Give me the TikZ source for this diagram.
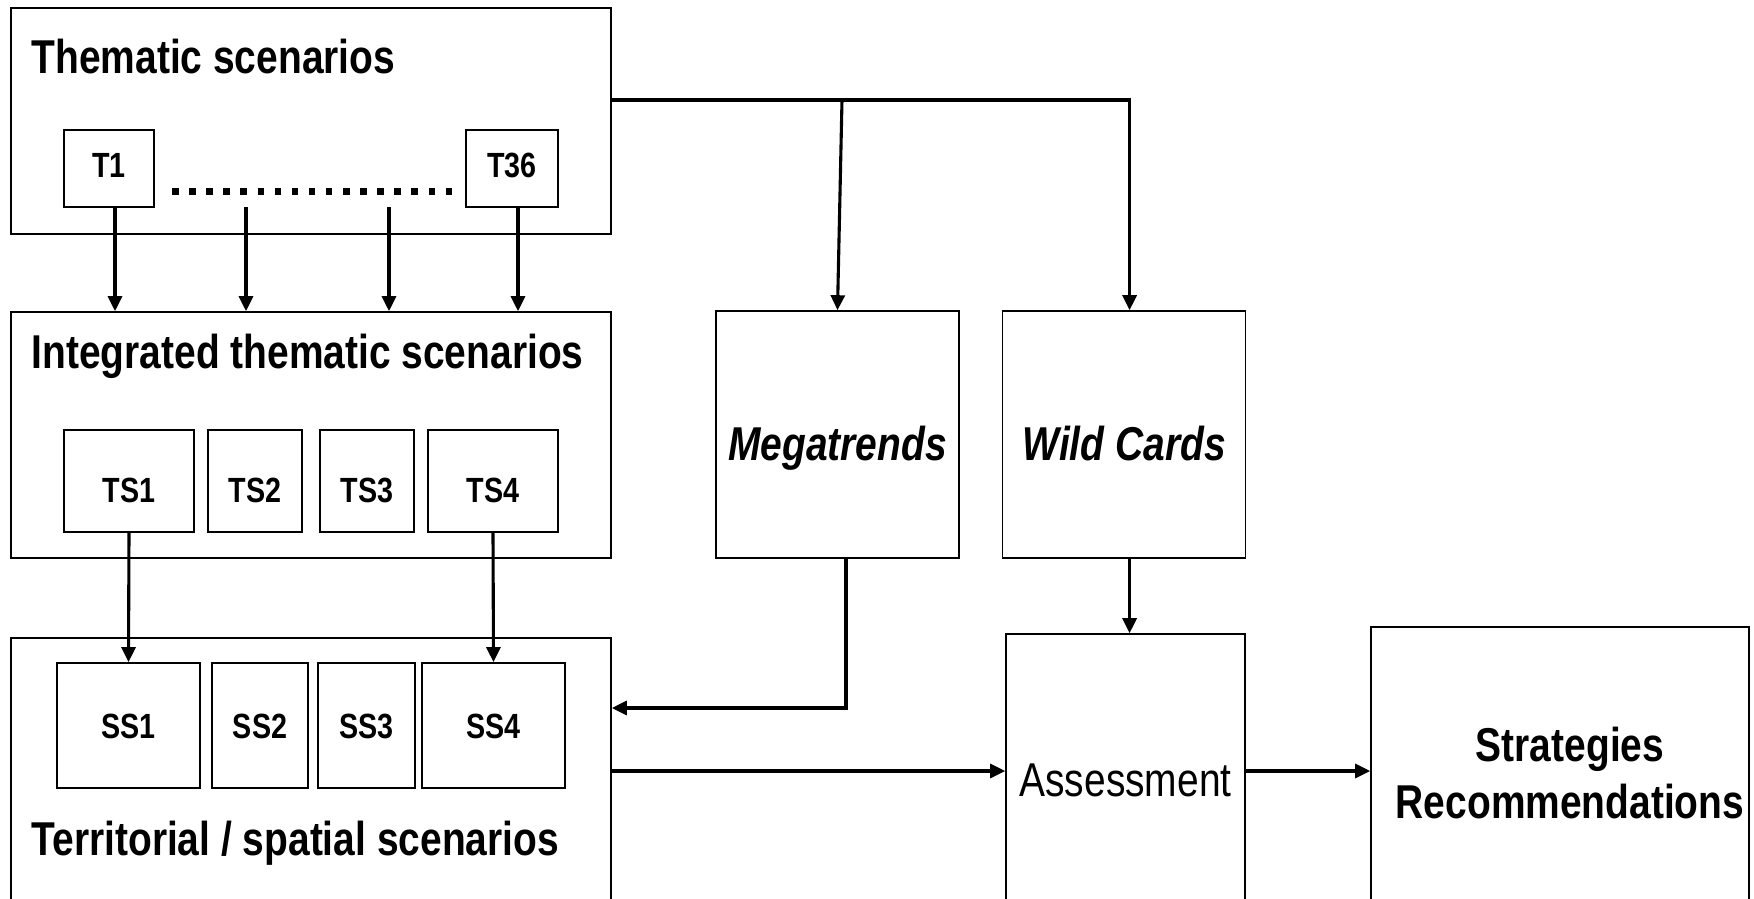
\documentclass[tikz,border=0pt]{standalone}
\usepackage{fontspec}
\setmainfont{Liberation Sans}[FakeStretch=0.82]
\usetikzlibrary{arrows.meta,positioning}

\tikzset{
  box/.style={draw,line width=1.6pt,inner sep=0pt},
  scen/.style={box,minimum width=600pt},
  big/.style={box,minimum width=243pt,minimum height=247pt},
  sub/.style={box,line width=1.8pt,font=\fontsize{35}{42}\selectfont\bfseries},
  title/.style={anchor=base west,font=\fontsize{47.5}{57}\selectfont\bfseries},
  flow/.style={line width=3.1pt,-{Triangle[length=15pt,width=14pt]}},
}

\begin{document}
\begin{tikzpicture}[x=1pt,y=-1pt]
  \useasboundingbox (0,0) rectangle (1754,899);
  \clip (0,0) rectangle (1754,899);

  % the three scenario levels
  \node[scen,minimum height=226pt] (thematic) at (311,121) {};
  \node[scen,minimum height=246pt] (integrated) at (311,435) {};
  \node[scen,minimum height=292pt] (territorial) at (311,784) {};

  \node[title] (thtitle) at (28,74) {Thematic scenarios};
  \node[title] (ittitle) at (28,368) {Integrated thematic scenarios};
  \node[title] (tetitle) at (28,855) {Territorial / spatial scenarios};

  % thematic
  \node[sub,minimum width=90pt,minimum height=77pt,text height=25pt,text depth=8pt] (t1) at (109,168.5) {T1};
  \node[sub,minimum width=92pt,minimum height=77pt,text height=25pt,text depth=8pt] (t36) at (512,168.5) {T36};
  \draw[line width=6.5pt,dash pattern=on 6.5pt off 10.6pt] (172,191.5) -- (452,191.5);

  % integrated
  \tikzset{tsbox/.style={sub,minimum height=102pt,text height=42pt,text depth=0pt}}
  \node[tsbox,minimum width=130pt] (ts1) at (129,481) {TS1};
  \node[tsbox,minimum width=94pt,right=12.2pt of ts1] (ts2) {TS2};
  \node[tsbox,minimum width=94pt,right=16.2pt of ts2] (ts3) {TS3};
  \node[tsbox,minimum width=130pt,right=12.2pt of ts3] (ts4) {TS4};

  % territorial
  \tikzset{ssbox/.style={sub,minimum height=125pt,text height=25pt,text depth=0pt}}
  \node[ssbox,minimum width=143pt] (ss1) at (128.5,725.5) {SS1};
  \node[ssbox,minimum width=96pt,right=10.2pt of ss1] (ss2) {SS2};
  \node[ssbox,minimum width=97pt,right=8.2pt of ss2] (ss3) {SS3};
  \node[ssbox,minimum width=143pt,right=5.2pt of ss3] (ss4) {SS4};

  % right part
  \node[big,font=\fontsize{47.5}{57}\selectfont\bfseries\itshape,text height=51pt,text depth=0pt] (megatrends) at (837.5,434.5) {Megatrends};
  \node[big,font=\fontsize{47.5}{57}\selectfont\bfseries\itshape,text height=51pt,text depth=0pt,right=42pt of megatrends] (wildcards) {Wild Cards};
  \node[box,minimum width=239pt,minimum height=290pt,font=\fontsize{47.5}{57}\selectfont,text height=34pt,text depth=0pt] (assessment) at (1125.5,779) {Assessment};
  \node[box,minimum width=378pt,minimum height=284pt] (strategies) at (1560,769) {};
  \node[align=center,font=\fontsize{47.5}{57}\selectfont\bfseries] (strattxt) at (1570,773) {Strategies\\Recommendations};

  % connectors
  \coordinate (feed) at (0,100);
  \coordinate (branch) at (842,100);
  \coordinate (mtlevel) at (0,708);
  \coordinate (outlevel) at (0,771);
  \coordinate (d1) at (246,207);
  \coordinate (d2) at (389,207);

  \foreach \s in {t1,t36}
    \draw[flow] ([xshift=6pt]\s.south) -- ([xshift=6pt]\s.south |- integrated.north);
  \foreach \s in {d1,d2}
    \draw[flow] (\s) -- (\s |- integrated.north);
  \draw[flow] (ts1.south) -- (ss1.north);
  \draw[flow] (ts4.south) -- (ss4.north);

  \draw[flow] (thematic.east |- feed) -| ([xshift=5.5pt]wildcards.north);
  \draw[flow] (branch) -- (megatrends.north);
  \draw[flow] ([xshift=8.5pt]megatrends.south) |- (territorial.east |- mtlevel);
  \draw[flow] ([xshift=5.5pt]wildcards.south) -- ([xshift=5.5pt]wildcards.south |- assessment.north);
  \draw[flow] (territorial.east |- outlevel) -- (assessment.west |- outlevel);
  \draw[flow] (assessment.east |- outlevel) -- (strategies.west |- outlevel);
\end{tikzpicture}
\end{document}
